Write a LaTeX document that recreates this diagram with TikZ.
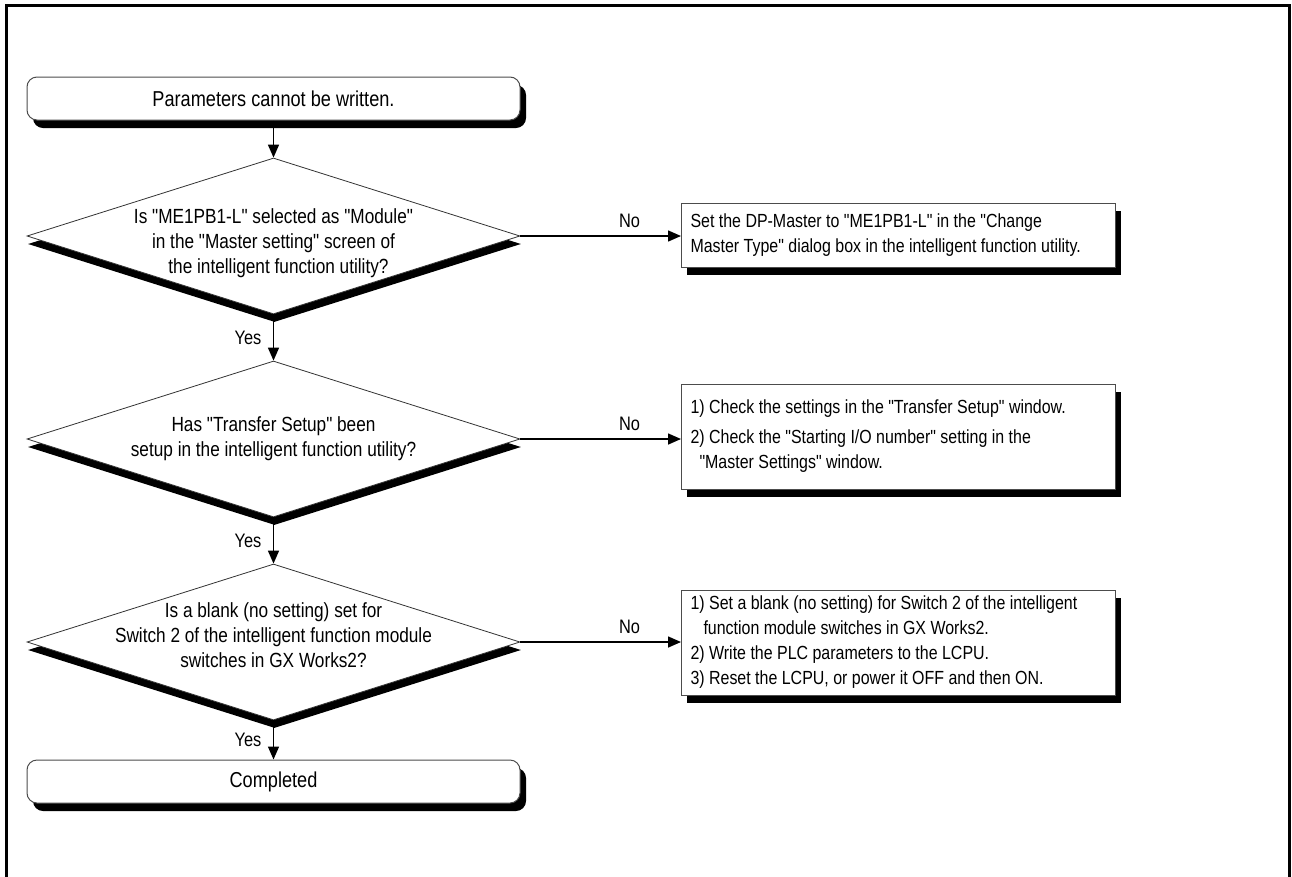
\documentclass[tikz,border=0pt]{standalone}
\usepackage{fontspec}
\setmainfont{Liberation Sans}[FakeStretch=0.84,Ligatures=TeXOff]
\usetikzlibrary{shapes.geometric,shadows,arrows.meta,positioning}
\tikzset{
  flowtext/.style={font=\fontsize{#1}{25pt}\selectfont},
  blackshadow/.style={drop shadow={shadow xshift=#1, shadow yshift=-8pt, fill=black, opacity=1}},
  terminal/.style={flowtext=21.6pt, draw=black!70, line width=1pt, fill=white, rounded corners=10pt,
    minimum width=493pt, minimum height=43pt, inner sep=0pt, blackshadow=6pt},
  decision/.style={draw=black!80, line width=0.8pt, fill=white, shape=diamond,
    minimum width=493pt, minimum height=156pt, inner sep=0pt, blackshadow=1pt},
  dtext/.style={flowtext=20.5pt, align=center, inner sep=0pt},
  action/.style={flowtext=19pt, draw=black!70, line width=1pt, fill=white, anchor=west,
    text width=416pt, inner xsep=9pt, align=flush left, blackshadow=5pt},
  flowarrow/.style={line width=1.5pt, -{Triangle[length=13pt,width=11pt]}},
  yesno/.style={flowtext=19.5pt}
}
\begin{document}
\begin{tikzpicture}[x=1pt,y=-1pt]
  \useasboundingbox (0,0) rectangle (1292,876);
  \draw[line width=3pt] (6,900) -- (6,5) -- (1289,5) -- (1289,900);

  % main column
  \node[terminal] (start) at (273.5,98.5) {Parameters cannot be written.};
  \node[decision, label={[dtext,yshift=-7pt]center:{Is "ME1PB1-L" selected as "Module"\\
    in the "Master setting" screen of\\ \hspace*{10pt}the intelligent function utility?}}] (d1) at (273.5,236) {};
  \node[decision, label={[dtext]center:{Has "Transfer Setup" been\\
    setup in the intelligent function utility?}}] (d2) at (273.5,439) {};
  \node[decision, label={[dtext,yshift=7pt]center:{Is a blank (no setting) set for\\
    Switch 2 of the intelligent function module\\ switches in GX Works2?}}] (d3) at (273.5,642) {};
  \node[terminal] (done) at (273.5,781.5) {Completed};

  % remedies
  \node[action, minimum height=64pt] (b1) at (681,235) {Set the DP-Master to "ME1PB1-L" in the "Change\\
    Master Type" dialog box in the intelligent function utility.};
  \node[action, minimum height=105pt] (b2) at (681,436.5) {1) Check the settings in the "Transfer Setup" window.\\[5pt]
    2) Check the "Starting I/O number" setting in the\\ \hspace*{9pt}"Master Settings" window.\\[4pt]};
  \node[action, minimum height=105pt] (b3) at (681,642.5) {1) Set a blank (no setting) for Switch 2 of the intelligent\\
    \hspace*{13pt}function module switches in GX Works2.\\
    2) Write the PLC parameters to the LCPU.\\
    3) Reset the LCPU, or power it OFF and then ON.};

  \draw[flowarrow] (start.south) -- (d1.north);
  \draw[flowarrow] (d1.south) -- node[yesno, left=8pt] {Yes} (d2.north);
  \draw[flowarrow] (d2.south) -- node[yesno, left=8pt] {Yes} (d3.north);
  \draw[flowarrow] (d3.south) -- node[yesno, left=8pt] {Yes} (done.north);
  \draw[flowarrow] (d1.east) -- node[yesno, pos=0.68, above=4pt] {No} (d1.east -| b1.west);
  \draw[flowarrow] (d2.east) -- node[yesno, pos=0.68, above=4pt] {No} (d2.east -| b2.west);
  \draw[flowarrow] (d3.east) -- node[yesno, pos=0.68, above=4pt] {No} (d3.east -| b3.west);
\end{tikzpicture}
\end{document}
